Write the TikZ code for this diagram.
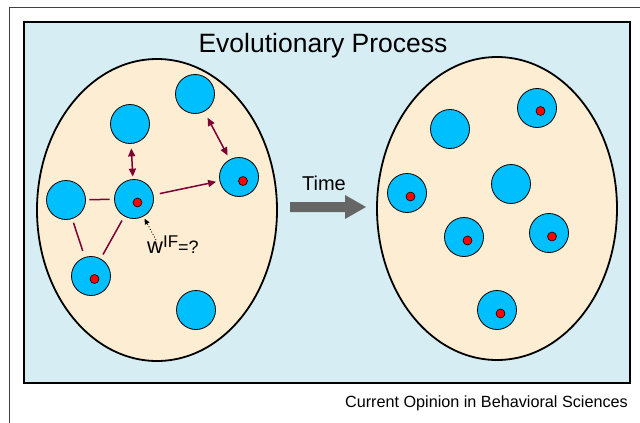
\documentclass[tikz,border=0pt]{standalone}
\usepackage{fontspec}
\setmainfont{Liberation Sans}
\usetikzlibrary{arrows.meta}
\definecolor{bgblue}{HTML}{D7EDF4}
\definecolor{peach}{HTML}{FDEDD3}
\definecolor{cellblue}{HTML}{00BFFF}
\definecolor{linkred}{HTML}{7D0035}
\definecolor{arrgray}{HTML}{666666}
\definecolor{dotred}{HTML}{FF0000}
\begin{document}
\begin{tikzpicture}[x=1pt,y=-1pt,
  cell/.style={circle,draw=black,line width=0.8pt,fill=cellblue,minimum size=39pt,inner sep=0pt},
  reddot/.style={circle,draw=black,line width=0.6pt,fill=dotred,minimum size=9pt,inner sep=0pt},
  pop/.style={draw=black,line width=1.8pt,fill=peach},
  link/.style={draw=linkred,line width=1.5pt},
  dlink/.style={link,{Triangle[length=8pt,width=7pt]}-{Triangle[length=8pt,width=7pt]}},
  slink/.style={link,-{Triangle[length=8pt,width=7pt]}},
  lbl/.style={inner sep=0pt}]
\useasboundingbox (0,0) rectangle (640,423);
\fill[white] (0,0) rectangle (640,423);
\draw[black!75,line width=1pt] (9,423) -- (9,7) -- (640,7);
\draw[line width=2pt,fill=bgblue] (24,22) rectangle (630,383);
\node[lbl,anchor=base,font=\fontsize{26.5}{26.5}\selectfont] (title) at (323,52) {Evolutionary Process};
% populations
\draw[pop] (157,210) ellipse [x radius=120pt, y radius=151pt];
\draw[pop] (497,208.5) ellipse [x radius=120pt, y radius=151.5pt];
% left cells
\node[cell] (A) at (130,124) {};
\node[cell] (B) at (195,94) {};
\node[cell] (C) at (66,200) {};
\node[cell] (D) at (134,199) {};
\node[cell] (E) at (239,177) {};
\node[cell] (F) at (91,276) {};
\node[cell] (G) at (196,310) {};
\node[reddot] (Dd) at (137.5,202.5) {};
\node[reddot] (Ed) at (243,181) {};
\node[reddot] (Fd) at (94.5,279) {};
% right cells
\node[cell] (R1) at (450,129) {};
\node[cell] (R2) at (537,108) {};
\node[cell] (R3) at (407,193) {};
\node[cell] (R4) at (511,184) {};
\node[cell] (R5) at (464,237) {};
\node[cell] (R6) at (549,233) {};
\node[cell] (R7) at (497,310) {};
\node[reddot] (R2d) at (540.5,111) {};
\node[reddot] (R3d) at (410.5,196.5) {};
\node[reddot] (R5d) at (467.5,240.5) {};
\node[reddot] (R6d) at (552,236.5) {};
\node[reddot] (R7d) at (500.5,313.5) {};
% links
\draw[dlink,shorten <=4.5pt,shorten >=2.5pt] (A) -- (D);
\draw[dlink,shorten <=7pt,shorten >=4.5pt] (B) -- (E);
\draw[slink,shorten <=6.5pt,shorten >=3.5pt] (D) -- (E);
\draw[link,shorten <=3.5pt,shorten >=4.5pt] (C) -- (D);
\draw[link,shorten <=4pt,shorten >=6.5pt] (C) -- (F);
\draw[link,shorten <=4.7pt,shorten >=4.7pt] (D) -- (F);
% fitness label
\coordinate (wt) at (156,240);
\draw[black,line width=0.9pt,dotted,-{Triangle[length=5.5pt,width=5pt]},shorten >=2.5pt] (wt) -- (D);
\node[lbl,anchor=base west] (w) at (147,253) {\fontsize{22}{22}\selectfont w\raisebox{6pt}{\fontsize{17}{17}\selectfont IF}\fontsize{18}{18}\selectfont =?};
% time arrow
\fill[arrgray] (290,202) -- (345,202) -- (345,195) -- (366,207) -- (345,219) -- (345,212) -- (290,212) -- cycle;
\node[lbl,anchor=base,font=\fontsize{20}{20}\selectfont] (time) at (324,190) {Time};
% caption
\node[lbl,anchor=base east,font=\fontsize{16.2}{16.2}\selectfont] (cap) at (628,407) {Current Opinion in Behavioral Sciences};
\end{tikzpicture}
\end{document}
